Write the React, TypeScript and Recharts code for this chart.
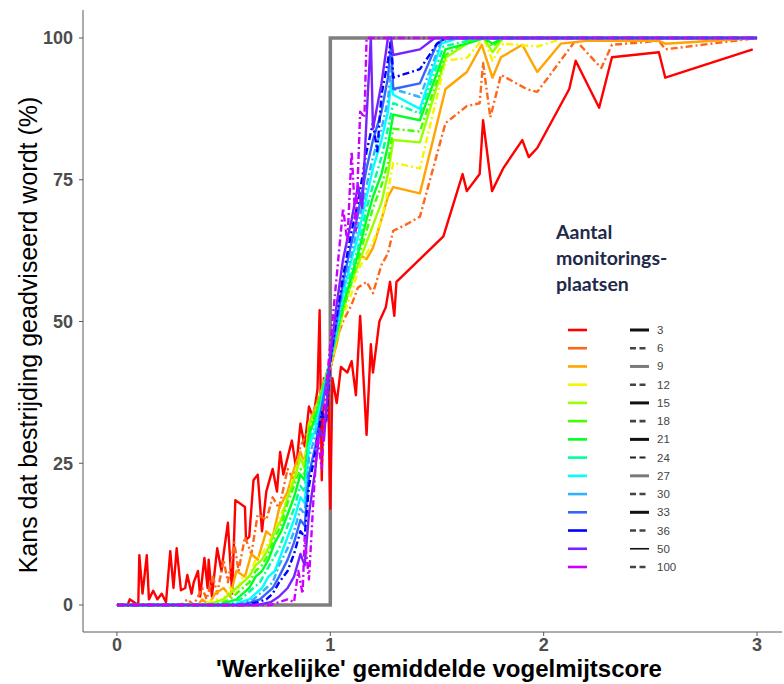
import { LineChart, Line, XAxis, YAxis } from "recharts"

type Pt = [number, number]

const xTicks = [0, 1, 2, 3]
const yTicks = [0, 25, 50, 75, 100]
const siteCounts = [3, 6, 9, 12, 15, 18, 21, 24, 27, 30, 33, 36, 50, 100]
const siteColors = [
  "#FF0000", "#FF661A", "#FFA500", "#F5F500", "#99FF00", "#44FF00", "#00FF22",
  "#00FF99", "#00FFFF", "#33B0FF", "#3366FF", "#0000FF", "#7722FF", "#CC00FF",
]
const dashedCounts = [6, 12, 18, 24, 30, 36, 100]

// drempel: advies als werkelijke score > 1
const threshold: Pt[] = [[0, 0], [1, 0], [1, 100], [3, 100]]

const s3: Pt[] = [
  [0, 0], [0.05, 0], [0.06, 1], [0.08, 0.5], [0.1, 0], [0.105, 8.8], [0.12, 2], [0.14, 8.8], [0.15, 1],
  [0.17, 2.5], [0.19, 1], [0.21, 2], [0.23, 0.5], [0.25, 9.5], [0.265, 3], [0.28, 10], [0.3, 2.6],
  [0.32, 3], [0.33, 5.3], [0.35, 2], [0.36, 4], [0.38, 6], [0.39, 1.5], [0.41, 8.3], [0.425, 3],
  [0.43, 8], [0.445, 1.5], [0.47, 10], [0.49, 6], [0.5, 9], [0.52, 14.5], [0.54, 2], [0.555, 18.5],
  [0.6, 17.3], [0.605, 11.5], [0.62, 12], [0.64, 22], [0.66, 23], [0.68, 13], [0.7, 20], [0.73, 24],
  [0.75, 20], [0.765, 27], [0.78, 23], [0.8, 26], [0.82, 29], [0.84, 24], [0.86, 32], [0.88, 28],
  [0.9, 35], [0.92, 33], [0.94, 38], [0.95, 52], [0.96, 22], [0.97, 40], [0.99, 38], [1.0, 17],
  [1.01, 40], [1.03, 35.6], [1.05, 42], [1.08, 41], [1.1, 43], [1.12, 37], [1.14, 51], [1.17, 30],
  [1.19, 46], [1.2, 41], [1.23, 50], [1.26, 52.5], [1.28, 57], [1.3, 51], [1.31, 57], [1.42, 61],
  [1.53, 65], [1.62, 76], [1.64, 73], [1.7, 76], [1.716, 85.5], [1.758, 73], [1.81, 77], [1.9, 82],
  [1.93, 79], [1.97, 80.6], [2.12, 91], [2.15, 96], [2.26, 87.7], [2.32, 96.6], [2.54, 97.5],
  [2.57, 93], [2.98, 98],
]
const s6: Pt[] = [
  [0, 0], [0.3, 0], [0.33, 1], [0.36, 0], [0.4, 3], [0.42, 1], [0.45, 5], [0.47, 2], [0.5, 8],
  [0.52, 4], [0.55, 11], [0.57, 6], [0.6, 12], [0.63, 9], [0.66, 16], [0.7, 15], [0.73, 19],
  [0.76, 17], [0.8, 24], [0.83, 22], [0.86, 28], [0.9, 31], [0.93, 35], [0.96, 38], [1.0, 41],
  [1.03, 47], [1.06, 50], [1.1, 53], [1.13, 56], [1.17, 57], [1.2, 55], [1.24, 60], [1.27, 62],
  [1.295, 66], [1.35, 67], [1.42, 68.5], [1.54, 85], [1.64, 88], [1.7, 88.5], [1.716, 95.6],
  [1.75, 86], [1.8, 93.5], [1.92, 91], [1.97, 90.5], [2.02, 93], [2.15, 99.6], [2.27, 94.7],
  [2.32, 98.8], [2.54, 99.5], [2.57, 98], [3.0, 100],
]
const s9: Pt[] = [
  [0, 0], [0.38, 0], [0.4, 1], [0.43, 0], [0.46, 2], [0.5, 3], [0.53, 1.5], [0.56, 6], [0.6, 5],
  [0.63, 9], [0.66, 8], [0.7, 13], [0.73, 12], [0.76, 17], [0.8, 20], [0.83, 24], [0.86, 27],
  [0.88, 25], [0.9, 32], [0.93, 35], [0.96, 37], [1.0, 42], [1.03, 46], [1.06, 52], [1.1, 58],
  [1.13, 62], [1.17, 61], [1.2, 63], [1.24, 68], [1.27, 72], [1.295, 73.7], [1.42, 72.6], [1.54, 91],
  [1.64, 94], [1.71, 98.8], [1.76, 93], [1.8, 96.6], [1.9, 98.8], [1.97, 94], [2.08, 99], [2.2, 99.5],
  [2.54, 99.5], [2.57, 99], [3, 100],
]
const s12: Pt[] = [
  [0, 0], [0.4, 0], [0.43, 0.5], [0.46, 1], [0.5, 1], [0.53, 3], [0.56, 2], [0.59, 5], [0.62, 5],
  [0.65, 8], [0.68, 9], [0.71, 11], [0.74, 13], [0.77, 16], [0.8, 19], [0.83, 23], [0.86, 26],
  [0.88, 25], [0.9, 31], [0.93, 34], [0.96, 37], [1.0, 42], [1.03, 47], [1.06, 51], [1.1, 55],
  [1.13, 59], [1.17, 62], [1.2, 64], [1.24, 68], [1.27, 73], [1.295, 78], [1.42, 77], [1.54, 96],
  [1.64, 96.5], [1.72, 100], [1.76, 96], [1.81, 99], [1.97, 98.5], [2.1, 100], [3, 100],
]
const s15: Pt[] = [
  [0, 0], [0.42, 0], [0.46, 0.5], [0.5, 1], [0.53, 2], [0.56, 3], [0.59, 4], [0.62, 5], [0.65, 7],
  [0.68, 8], [0.71, 10], [0.74, 13], [0.77, 15], [0.8, 19], [0.83, 22], [0.86, 26], [0.88, 24],
  [0.9, 32], [0.93, 34], [0.96, 38], [1.0, 43], [1.03, 47], [1.06, 52], [1.1, 57], [1.13, 60],
  [1.17, 64], [1.2, 67], [1.24, 71], [1.27, 76], [1.295, 82], [1.42, 81.6], [1.54, 96.5], [1.64, 99],
  [1.72, 100], [1.76, 97.5], [1.81, 100], [3, 100],
]
const s18: Pt[] = [
  [0, 0], [0.45, 0], [0.5, 0.5], [0.53, 1], [0.56, 2], [0.59, 3], [0.62, 4], [0.65, 6], [0.68, 7],
  [0.71, 9], [0.74, 12], [0.77, 14], [0.8, 18], [0.83, 21], [0.86, 24], [0.88, 23], [0.9, 31],
  [0.93, 34], [0.96, 38], [1.0, 43], [1.03, 48], [1.06, 52], [1.1, 57], [1.13, 61], [1.17, 66],
  [1.2, 70], [1.24, 74], [1.27, 78], [1.295, 84], [1.42, 83.5], [1.54, 97], [1.64, 99.5], [1.72, 100],
  [1.76, 98.5], [1.81, 100], [3, 100],
]
const s21: Pt[] = [
  [0, 0], [0.48, 0], [0.52, 0.5], [0.56, 1], [0.59, 2], [0.62, 3], [0.65, 5], [0.68, 6], [0.71, 8],
  [0.74, 11], [0.77, 13], [0.8, 16], [0.83, 19], [0.86, 23], [0.88, 22], [0.9, 30], [0.93, 33],
  [0.96, 37], [1.0, 43], [1.03, 48], [1.06, 53], [1.1, 58], [1.13, 62], [1.17, 68], [1.2, 72],
  [1.24, 76], [1.27, 81], [1.295, 86.5], [1.42, 85.5], [1.54, 98], [1.64, 99], [1.72, 100],
  [1.76, 99], [1.81, 100], [3, 100],
]
const s24: Pt[] = [
  [0, 0], [0.5, 0], [0.54, 0.5], [0.58, 1], [0.61, 2], [0.64, 3], [0.67, 4], [0.7, 6], [0.73, 8],
  [0.76, 10], [0.8, 14], [0.83, 17], [0.86, 21], [0.88, 20], [0.9, 29], [0.93, 32], [0.96, 37],
  [1.0, 43], [1.03, 48], [1.06, 54], [1.1, 59], [1.13, 63], [1.17, 70], [1.2, 74], [1.24, 79],
  [1.27, 84], [1.295, 88.5], [1.42, 86.7], [1.53, 98.5], [1.64, 99.5], [1.72, 100], [3, 100],
]
const s27: Pt[] = [
  [0, 0], [0.54, 0], [0.58, 0.5], [0.62, 1], [0.65, 2], [0.68, 3], [0.71, 5], [0.74, 6], [0.77, 9],
  [0.8, 12], [0.83, 15], [0.86, 19], [0.88, 18], [0.9, 28], [0.93, 31], [0.96, 36], [1.0, 43],
  [1.03, 49], [1.06, 55], [1.1, 61], [1.13, 65], [1.17, 72], [1.2, 77], [1.24, 82], [1.27, 87],
  [1.285, 92], [1.295, 90], [1.42, 87.5], [1.52, 99], [1.6, 100], [3, 100],
]
const s30: Pt[] = [
  [0, 0], [0.56, 0], [0.6, 0.5], [0.64, 1], [0.67, 2], [0.7, 3], [0.73, 4], [0.76, 7], [0.8, 10],
  [0.83, 13], [0.86, 17], [0.88, 16], [0.9, 26], [0.93, 30], [0.96, 35], [1.0, 43], [1.03, 49],
  [1.06, 56], [1.1, 62], [1.13, 67], [1.17, 74], [1.2, 79], [1.24, 84], [1.27, 89], [1.285, 95],
  [1.295, 91], [1.42, 89.6], [1.52, 99.5], [1.6, 100], [3, 100],
]
const s33: Pt[] = [
  [0, 0], [0.58, 0], [0.63, 0.5], [0.67, 1], [0.7, 2], [0.73, 3], [0.76, 5], [0.8, 8], [0.83, 11],
  [0.86, 15], [0.88, 14], [0.9, 23], [0.93, 28], [0.96, 35], [1.0, 43], [1.03, 50], [1.06, 57],
  [1.1, 64], [1.13, 69], [1.17, 77], [1.2, 82], [1.24, 87], [1.27, 93], [1.285, 99], [1.295, 91],
  [1.42, 92], [1.5, 99], [1.54, 100], [3, 100],
]
const s36: Pt[] = [
  [0, 0], [0.6, 0], [0.66, 0.5], [0.7, 1], [0.73, 2], [0.76, 4], [0.8, 6], [0.83, 9], [0.86, 13],
  [0.88, 12], [0.9, 21], [0.93, 27], [0.96, 34], [0.98, 32], [1.0, 43], [1.03, 51], [1.06, 58],
  [1.1, 66], [1.13, 71], [1.17, 80], [1.2, 85], [1.22, 80], [1.24, 90], [1.27, 96], [1.285, 100],
  [1.295, 93], [1.42, 94.5], [1.5, 99], [1.54, 100], [3, 100],
]
const s50: Pt[] = [
  [0, 0], [0.66, 0], [0.72, 0.5], [0.76, 1.5], [0.8, 3], [0.83, 5], [0.86, 9], [0.88, 7], [0.9, 16],
  [0.93, 24], [0.95, 31], [0.97, 29], [1.0, 44], [1.03, 53], [1.06, 61], [1.1, 68], [1.13, 74],
  [1.15, 70], [1.17, 86], [1.19, 100], [1.2, 84], [1.24, 92], [1.27, 100], [1.285, 100],
  [1.295, 97], [1.42, 98], [1.49, 100], [3, 100],
]
const s100: Pt[] = [
  [0, 0], [0.72, 0], [0.76, 0.5], [0.8, 1], [0.83, 0.5], [0.85, 6], [0.87, 2], [0.88, 12], [0.9, 4.5],
  [0.92, 18], [0.94, 30], [0.96, 24], [0.98, 38], [1.0, 46], [1.03, 58], [1.06, 70], [1.08, 64],
  [1.1, 80], [1.12, 66], [1.14, 87], [1.16, 86], [1.17, 100], [3, 100],
]

const seriesPoints = [s3, s6, s9, s12, s15, s18, s21, s24, s27, s30, s33, s36, s50, s100]

const toRows = (pts: Pt[]) => pts.map(([x, y]) => ({ x, y }))

const DOT_DASH = "7 3 2 3"

// legendevoorbeelden in de tweede kolom (zwart/grijs, doorgetrokken of gestreept)
const legendStroke = (n: number) => {
  if (n === 9 || n === 27) return { stroke: "#7a7a7a", width: 3, dash: undefined }
  if (n === 50) return { stroke: "#111", width: 1.6, dash: undefined }
  if (dashedCounts.includes(n)) return { stroke: n === 24 ? "#222" : "#444", width: n === 24 ? 2 : 2.6, dash: "6 3.5" }
  return { stroke: "#111", width: 3, dash: undefined }
}

function LegendOverlay() {
  const rowTop = 330
  const rowStep = 18.23
  return (
    <svg width={784} height={684} style={{ position: "absolute", left: 0, top: 0, pointerEvents: "none" }}>
      <g fontFamily="Lato, 'Open Sans', sans-serif" fontWeight="bold" fontSize={19.5} fill="#1F2A4A">
        <text x={556} y={239}>Aantal</text>
        <text x={556} y={265}>monitorings-</text>
        <text x={556} y={291}>plaatsen</text>
      </g>
      {siteCounts.map((n, i) => {
        const y = rowTop + i * rowStep
        const st = legendStroke(n)
        return (
          <g key={n}>
            <line x1={568} x2={587} y1={y} y2={y} stroke={siteColors[i]} strokeWidth={2.6} />
            <line x1={630} x2={649} y1={y} y2={y} stroke={st.stroke} strokeWidth={st.width} strokeDasharray={st.dash} />
            <text x={657} y={y + 4} fontSize={11.5} fill="#444" fontFamily="'Liberation Sans', Arial, sans-serif">{n}</text>
          </g>
        )
      })}
    </svg>
  )
}

export default function App() {
  return (
    <div style={{ position: "absolute", left: 0, top: 0, width: 784, height: 684, background: "#fff" }}>
      <LineChart
        width={784}
        height={684}
        margin={{ top: 10, right: 2, bottom: 22, left: 0 }}
        style={{ fontFamily: "'Liberation Sans', Arial, sans-serif" }}
      >
        <XAxis
          type="number"
          dataKey="x"
          domain={[-0.159, 3.117]}
          ticks={xTicks}
          allowDataOverflow
          height={30}
          stroke="#5a5a5a"
          tickSize={4}
          tickMargin={2}
          tick={{ fill: "#4D4D4D", fontSize: 18, fontWeight: "bold" }}
          label={{
            content: () => (
              <text x={439} y={677} textAnchor="middle" fontSize={24} fontWeight="bold" fill="#000">
                'Werkelijke' gemiddelde vogelmijtscore
              </text>
            ),
          }}
        />
        <YAxis
          type="number"
          domain={[-4.76, 104.94]}
          ticks={yTicks}
          allowDataOverflow
          width={83}
          stroke="#5a5a5a"
          tickSize={4}
          tickMargin={6}
          tick={{ fill: "#4D4D4D", fontSize: 18, fontWeight: "bold" }}
          label={{
            content: () => (
              <text x={37} y={335} textAnchor="middle" fontSize={25} fill="#000" transform="rotate(-90 37 335)">
                Kans dat bestrijding geadviseerd wordt (%)
              </text>
            ),
          }}
        />
        <Line
          data={toRows(threshold)}
          dataKey="y"
          type="linear"
          stroke="#7f7f7f"
          strokeWidth={3.5}
          dot={false}
          isAnimationActive={false}
        />
        {seriesPoints.map((pts, i) => (
          <Line
            key={siteCounts[i]}
            data={toRows(pts)}
            dataKey="y"
            name={String(siteCounts[i])}
            type="linear"
            stroke={siteColors[i]}
            strokeWidth={2.4}
            strokeDasharray={dashedCounts.includes(siteCounts[i]) ? DOT_DASH : undefined}
            strokeLinejoin="round"
            dot={false}
            isAnimationActive={false}
          />
        ))}
      </LineChart>
      <LegendOverlay />
    </div>
  )
}
